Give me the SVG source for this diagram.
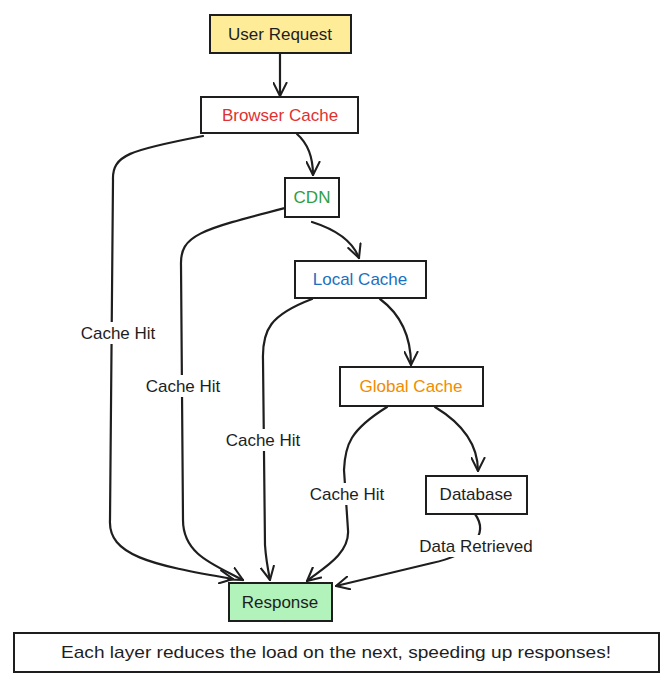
<svg xmlns="http://www.w3.org/2000/svg" width="671" height="682" viewBox="0 0 671 682">
<defs>
<style>
.box{stroke:#1e1e1e;stroke-width:2;fill:#ffffff}
.t{font-family:"Liberation Sans","DejaVu Sans",sans-serif;font-size:17px;fill:#1e1e1e;text-anchor:middle;dominant-baseline:central}
.c{fill:none;stroke:#1e1e1e;stroke-width:2.2;stroke-linecap:round;stroke-linejoin:round}
.lbl{fill:#ffffff}
</style>
<marker id="ah" viewBox="0 0 16 16" refX="15" refY="8" markerWidth="15" markerHeight="15" markerUnits="userSpaceOnUse" orient="auto">
<path d="M1,1 L15,8 L1,15" fill="none" stroke="#1e1e1e" stroke-width="2.2" stroke-linecap="round" stroke-linejoin="round"/>
</marker>
</defs>
<rect width="671" height="682" fill="#ffffff"/>
<g id="connectors">
<path class="c" d="M280,54 L280,96" marker-end="url(#ah)"/>
<path class="c" d="M297,134 Q313,148 313,175" marker-end="url(#ah)"/>
<path class="c" d="M312,222 Q350,234 359,258" marker-end="url(#ah)"/>
<path class="c" d="M380,299 Q411,322 411,365" marker-end="url(#ah)"/>
<path class="c" d="M435,407 Q478,433 478,471" marker-end="url(#ah)"/>
<path class="c" d="M475,514 C490,535 470,555 432,563 L336,586" marker-end="url(#ah)"/>
<path class="c" d="M203,136 C130,150 112,155 113,180 L110,520 C108,555 150,565 233,579" marker-end="url(#ah)"/>
<path class="c" d="M285,208 C200,230 180,235 181,265 L183,520 C183,555 215,565 243,580" marker-end="url(#ah)"/>
<path class="c" d="M312,299 C270,315 262,330 263,360 L265,545 C266,560 268,570 270,580" marker-end="url(#ah)"/>
<path class="c" d="M387,407 C350,430 345,445 344,470 L348,530 C350,555 320,570 307,581" marker-end="url(#ah)"/>
<rect class="lbl" x="76" y="322" width="84" height="22"/>
<text class="t" x="118" y="333">Cache Hit</text>
<rect class="lbl" x="141" y="375" width="84" height="22"/>
<text class="t" x="183" y="386">Cache Hit</text>
<rect class="lbl" x="221" y="429" width="84" height="22"/>
<text class="t" x="263" y="440">Cache Hit</text>
<rect class="lbl" x="305" y="483" width="84" height="22"/>
<text class="t" x="347" y="494">Cache Hit</text>
<rect class="lbl" x="408" y="535" width="136" height="22"/>
<text class="t" x="476" y="546">Data Retrieved</text>
</g>
<g id="user-request">
<rect class="box" x="210" y="15" width="141" height="38" style="fill:#ffec99"/>
<text class="t" x="280" y="34">User Request</text>
</g>
<g id="browser-cache">
<rect class="box" x="201" y="97" width="157" height="36"/>
<text class="t" x="280" y="115" style="fill:#e03131">Browser Cache</text>
</g>
<g id="cdn">
<rect class="box" x="285" y="178" width="54" height="39"/>
<text class="t" x="312" y="197" style="fill:#2f9e44">CDN</text>
</g>
<g id="local-cache">
<rect class="box" x="295" y="261" width="131" height="37"/>
<text class="t" x="360" y="279" style="fill:#1971c2">Local Cache</text>
</g>
<g id="global-cache">
<rect class="box" x="340" y="367" width="143" height="39"/>
<text class="t" x="411" y="386" style="fill:#f08c00">Global Cache</text>
</g>
<g id="database">
<rect class="box" x="426" y="476" width="101" height="38"/>
<text class="t" x="476" y="494">Database</text>
</g>
<g id="response">
<rect class="box" x="229" y="583" width="103" height="38" style="fill:#b2f2bb"/>
<text class="t" x="280" y="602">Response</text>
</g>
<g id="note">
<rect class="box" x="14" y="633" width="645" height="39"/>
<text class="t" x="336" y="652" textLength="550" lengthAdjust="spacingAndGlyphs">Each layer reduces the load on the next, speeding up responses!</text>
</g>
</svg>
